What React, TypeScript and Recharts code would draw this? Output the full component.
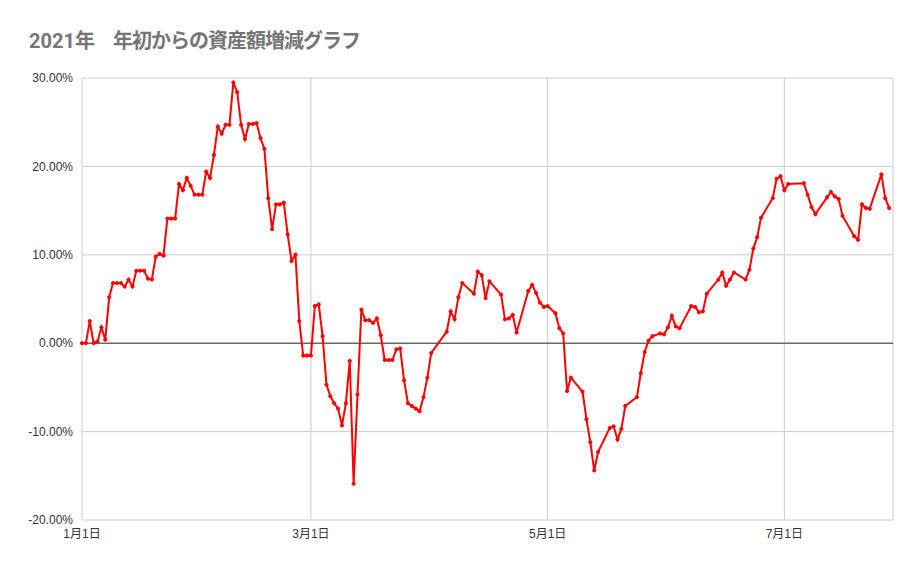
import React from "react";
import {
  LineChart,
  Line,
  XAxis,
  YAxis,
  CartesianGrid,
  ReferenceLine,
} from "recharts";

// Day offset from 2021-01-01
const days = [
  0, 1, 2, 3, 4, 5, 6, 7, 8, 9, 10, 11, 12, 13, 14, 15, 16, 17, 18, 19, 20,
  21, 22, 23, 24, 25, 26, 27, 28, 29, 30, 31, 32, 33, 34, 35, 36, 37, 38, 39,
  40, 41, 42, 43, 44, 45, 46, 47, 48, 49, 50, 51, 52, 53, 54, 55, 56, 57, 58,
  59, 60, 61, 62, 63, 64, 65, 66, 67, 68, 69, 70, 71, 72, 73, 74, 75, 76, 77,
  78, 79, 80, 81, 82, 83, 84, 85, 86, 87, 88, 89, 90, 94, 95, 96, 97, 98, 101,
  102, 103, 104, 105, 108, 109, 110, 111, 112, 115, 116, 117, 118, 119, 120,
  122, 123, 124, 125, 126, 129, 130, 131, 132, 133, 136, 137, 138, 139, 140,
  143, 144, 145, 146, 147, 149, 150, 151, 152, 153, 154, 157, 158, 159, 160,
  161, 164, 165, 166, 167, 168, 171, 172, 173, 174, 175, 178, 179, 180, 181,
  182, 186, 187, 188, 189, 192, 193, 194, 195, 196, 199, 200, 201, 202, 203,
  206, 207, 208,
];

// Change in assets since start of year (%)
const changes = [
  0, 0, 2.5, 0, 0.2, 1.8, 0.4, 5.2, 6.8, 6.8, 6.8, 6.4, 7.2, 6.4, 8.2, 8.2,
  8.2, 7.3, 7.2, 9.8, 10.1, 9.9, 14.1, 14.1, 14.1, 18.0, 17.3, 18.7, 17.8,
  16.8, 16.8, 16.8, 19.4, 18.7, 21.3, 24.5, 23.7, 24.7, 24.7, 29.5, 28.4, 24.7,
  23.1, 24.8, 24.8, 24.9, 23.2, 22.0, 16.4, 12.9, 15.7, 15.7, 15.9, 12.3, 9.3,
  10.0, 2.5, -1.4, -1.4, -1.4, 4.2, 4.4, 0.8, -4.7, -6.0, -6.8, -7.4, -9.3,
  -6.8, -2.0, -15.9, -5.8, 3.8, 2.6, 2.6, 2.3, 2.8, 0.9, -1.9, -1.9, -1.9,
  -0.7, -0.6, -4.2, -6.8, -7.1, -7.4, -7.7, -6.1, -3.9, -1.1, 1.3, 3.6, 2.7,
  5.2, 6.8, 5.6, 8.1, 7.7, 5.1, 7.0, 5.5, 2.7, 2.8, 3.2, 1.2, 5.9, 6.6, 5.7,
  4.6, 4.1, 4.2, 3.4, 1.7, 1.1, -5.4, -3.9, -5.5, -8.6, -11.2, -14.4, -12.3,
  -9.6, -9.4, -10.9, -9.7, -7.1, -6.1, -3.4, -1.0, 0.3, 0.8, 1.1, 1.0, 1.8,
  3.1, 1.9, 1.7, 4.2, 4.1, 3.5, 3.6, 5.6, 7.2, 8.0, 6.5, 7.2, 8.0, 7.2, 8.3,
  10.7, 12.0, 14.2, 16.4, 18.6, 18.9, 17.3, 18.0, 18.1, 16.8, 15.4, 14.6, 16.5,
  17.1, 16.6, 16.3, 14.4, 12.1, 11.7, 15.7, 15.3, 15.2, 19.1, 16.4, 15.3,
];

const xTickDays = [0, 59, 120, 181];
const xTickLabels = ["1月1日", "3月1日", "5月1日", "7月1日"];
const yTicks = [-20, -10, 0, 10, 20, 30];

const data = days.map((d, i) => ({ day: d, value: changes[i] }));

const tickStyle = {
  fontFamily: "'Liberation Sans', Arial, 'Noto Sans CJK JP', sans-serif",
  fontSize: 12,
  fill: "#333333",
};

export default function App() {
  return (
    <div
      style={{
        position: "absolute",
        left: 0,
        top: 0,
        width: 921,
        height: 569,
        background: "#ffffff",
      }}
    >
      <svg
        width={921}
        height={60}
        style={{ position: "absolute", left: 0, top: 0, pointerEvents: "none" }}
      >
        <text
          x={29}
          y={47.5}
          fill="#757575"
          fontWeight="bold"
          fontSize={20}
          fontFamily="Roboto, 'Noto Sans CJK JP', sans-serif"
        >
          <tspan>2021</tspan>
          <tspan letterSpacing={-1} fontFamily="'Noto Sans CJK JP', sans-serif">
            年　年初からの資産額増減グラフ
          </tspan>
        </text>
      </svg>
      <LineChart
        width={921}
        height={569}
        data={data}
        margin={{ top: 78, right: 28, bottom: 19, left: 22 }}
      >
        <CartesianGrid stroke="#cccccc" strokeWidth={1} />
        <XAxis
          dataKey="day"
          type="number"
          domain={[0, 209]}
          ticks={xTickDays}
          tickFormatter={(v: number) => xTickLabels[xTickDays.indexOf(v)] ?? ""}
          axisLine={false}
          tickLine={false}
          tickSize={0}
          tickMargin={9}
          height={30}
          tick={tickStyle}
          interval={0}
        />
        <YAxis
          type="number"
          domain={[-20, 30]}
          ticks={yTicks}
          tickFormatter={(v: number) => `${v.toFixed(2)}%`}
          axisLine={false}
          tickLine={false}
          tickSize={0}
          tickMargin={9}
          width={60}
          tick={tickStyle}
          interval={0}
        />
        <ReferenceLine y={0} stroke="#333333" strokeWidth={1} />
        <Line
          type="linear"
          dataKey="value"
          stroke="#ff0000"
          strokeWidth={2}
          dot={{ r: 1.6, fill: "#ff0000", stroke: "#ff0000", strokeWidth: 1 }}
          activeDot={false}
          isAnimationActive={false}
        />
      </LineChart>
    </div>
  );
}
